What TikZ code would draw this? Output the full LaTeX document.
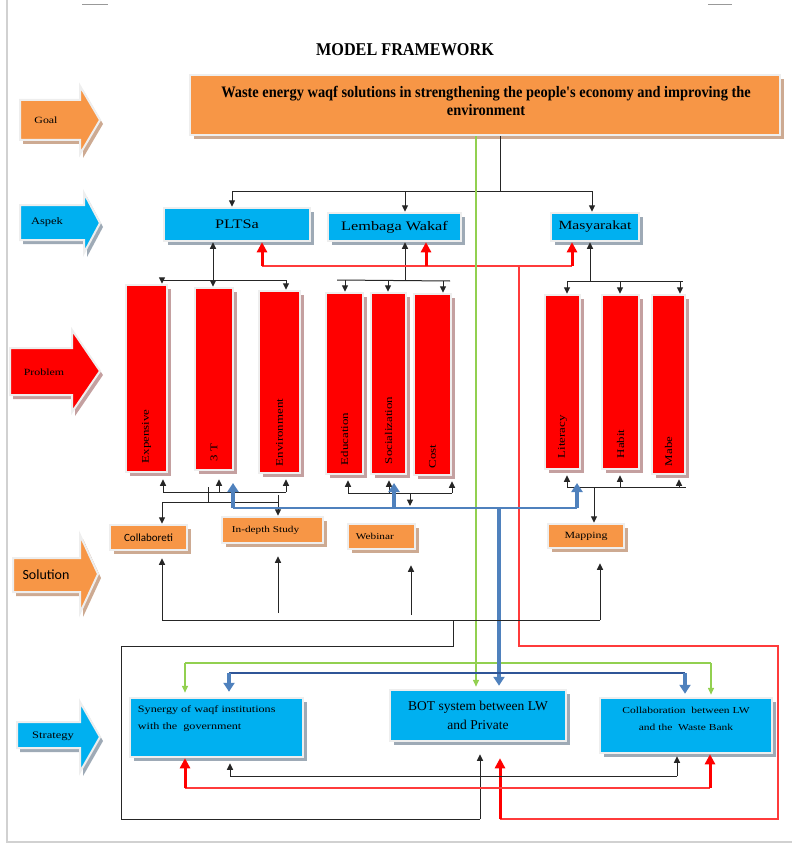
\documentclass[tikz,border=0pt]{standalone}
\usepackage{fontspec}
\setmainfont{Liberation Serif}
\newfontfamily\wserif[FakeStretch=1.25]{Liberation Serif}
\newfontfamily\nserif[FakeStretch=0.9]{Liberation Serif}
\newfontfamily\calib{Carlito}
\usetikzlibrary{arrows.meta,shadows,calc}
\definecolor{orng}{HTML}{F79646}
\definecolor{cyanb}{HTML}{00B0F0}
\definecolor{steel}{HTML}{4F81BD}
\definecolor{navy}{HTML}{2F5597}
\definecolor{grn}{HTML}{92D050}
\definecolor{rline}{HTML}{FF3B3B}
\definecolor{edge}{HTML}{EEEEEE}
\definecolor{shbrown}{HTML}{CDAA92}
\definecolor{shgray}{HTML}{9EAAB6}
\definecolor{shred}{HTML}{C4A0A0}
\newcommand{\blockarr}[9]{%
  \fill[#9,shift={(3,4)}] (#1,#4)--(#2,#4)--(#2,#6)--(#3,{(#6+#7)/2})--(#2,#7)--(#2,#5)--(#1,#5)--cycle;
  \filldraw[fill=#8,draw=edge,line width=2pt] (#1,#4)--(#2,#4)--(#2,#6)--(#3,{(#6+#7)/2})--(#2,#7)--(#2,#5)--(#1,#5)--cycle;}
\begin{document}
\begin{tikzpicture}[x=1pt,y=-1pt,
  box/.style={draw=edge,line width=2.5pt,inner sep=0pt},
  shb/.style={drop shadow={shadow xshift=3.5pt,shadow yshift=-4pt,fill=#1,opacity=1}},
  obox/.style={box,fill=orng,shb=shbrown},
  bbox/.style={box,fill=cyanb,shb=shgray},
  rbox/.style={box,fill=red,shb=shred},
  ptext/.style={rotate=90,anchor=west,inner sep=0pt,font=\wserif\fontsize{10.3}{12}\selectfont},
  ln/.style={line width=1pt,draw=black!85},
  arr/.style={ln,-{Triangle[length=6.5pt,width=6pt]}},
  darr/.style={ln,{Triangle[length=6.5pt,width=6pt]}-{Triangle[length=6.5pt,width=6pt]}},
  rl/.style={line width=1.2pt,draw=rline},
  rthick/.style={line width=3pt,draw=red,-{Triangle[length=10pt,width=10pt]}},
  grl/.style={line width=1.5pt,draw=grn},
  grarr/.style={grl,-{Triangle[length=7pt,width=6pt]}},
  bln/.style={line width=2pt,draw=steel},
  bthick/.style={line width=3.5pt,draw=steel,-{Triangle[length=9pt,width=11pt]}},
  nvl/.style={line width=1.5pt,draw=navy}]
\useasboundingbox (0,0) rectangle (792,845);
% page frame
\draw[black!18,line width=2pt] (7,0) -- (7,842) -- (792,842);
\draw[black!40,line width=0.8pt] (82,4) -- (108,4);
\draw[black!40,line width=0.8pt] (708,4) -- (732,4);

% title
\node[font=\nserif\bfseries\fontsize{18}{21}\selectfont] (title) at (405,50) {MODEL FRAMEWORK};

% left block arrows
\blockarr{20}{80}{100}{100}{140}{86}{154}{orng}{shbrown}
\node[font=\wserif\fontsize{9.5}{11}\selectfont] (goallbl) at (46,120) {Goal};
\blockarr{20}{84}{100}{205}{240}{193}{253}{cyanb}{shgray}
\node[font=\wserif\fontsize{10}{11}\selectfont] (aspeklbl) at (47,222) {Aspek};
\blockarr{10}{72}{100}{348}{395}{330}{412}{red}{shred}
\node[font=\wserif\fontsize{9.5}{11}\selectfont] (problbl) at (44,372) {Problem};
\blockarr{13}{80}{98}{558}{592}{535}{613}{orng}{shbrown}
\node[font=\calib\fontsize{14}{16}\selectfont] (sollbl) at (46,575) {Solution};
\blockarr{17}{80}{100}{722}{748}{702}{772}{cyanb}{shgray}
\node[font=\wserif\fontsize{10}{11}\selectfont] (strlbl) at (53,736) {Strategy};

% goal
\node[obox,minimum width=590pt,minimum height=60pt] (goal) at (485,105) {};
\node[font=\nserif\bfseries\fontsize{16}{18.5}\selectfont,align=center] (goaltxt) at (486,101)
  {Waste energy waqf solutions in strengthening the people's economy and improving the\\environment};

% aspects
\node[bbox,minimum width=146pt,minimum height=33pt,font=\wserif\fontsize{13}{15}\selectfont] (plts) at (237,224.5) {PLTSa};
\node[bbox,minimum width=133pt,minimum height=28pt,font=\wserif\fontsize{13}{15}\selectfont] (lemb) at (394.5,227) {Lembaga Wakaf};
\node[bbox,minimum width=88pt,minimum height=28pt,font=\wserif\fontsize{12.5}{15}\selectfont] (masy) at (595,227) {Masyarakat};

% problems
\node[rbox,minimum width=41pt,minimum height=187pt] (exp) at (146.5,378.5) {};
\node[rbox,minimum width=38pt,minimum height=182pt] (t3) at (214,379) {};
\node[rbox,minimum width=41pt,minimum height=182pt] (env) at (279.5,382) {};
\node[rbox,minimum width=37pt,minimum height=181pt] (edu) at (344.5,383.5) {};
\node[rbox,minimum width=35pt,minimum height=181pt] (soc) at (388.5,383.5) {};
\node[rbox,minimum width=37pt,minimum height=181pt] (cost) at (432.5,384.5) {};
\node[rbox,minimum width=35pt,minimum height=174pt] (lit) at (562.5,382) {};
\node[rbox,minimum width=37pt,minimum height=174pt] (hab) at (620.5,382) {};
\node[rbox,minimum width=33pt,minimum height=179pt] (mab) at (668.5,384.5) {};
\node[ptext] (expt) at ($(exp.south)+(0,-10)$) {Expensive};
\node[ptext] (t3t) at ($(t3.south)+(0,-10)$) {3 T};
\node[ptext] (envt) at ($(env.south)+(0,-8)$) {Environment};
\node[ptext] (edut) at ($(edu.south)+(0,-10)$) {Education};
\node[ptext] (soct) at ($(soc.south)+(0,-11)$) {Socialization};
\node[ptext] (costt) at ($(cost.south)+(0,-8)$) {Cost};
\node[ptext] (litt) at ($(lit.south)+(0,-12)$) {Literacy};
\node[ptext] (habt) at ($(hab.south)+(0,-12)$) {Habit};
\node[ptext] (mabt) at ($(mab.south)+(0,-9)$) {Mabe};

% solutions
\node[obox,minimum width=77pt,minimum height=25pt,font=\calib\fontsize{11}{13}\selectfont] (colb) at (148.5,537.5) {Collaboreti};
\node[obox,minimum width=101pt,minimum height=26pt] (indepth) at (272.5,530) {};
\node[anchor=west,inner sep=0pt,font=\wserif\fontsize{9}{11}\selectfont] (indt) at ($(indepth.west)+(11,0)$) {In-depth Study};
\node[obox,minimum width=67pt,minimum height=25pt] (web) at (381.5,536.5) {};
\node[anchor=west,inner sep=0pt,font=\wserif\fontsize{9}{11}\selectfont] (webt) at ($(web.west)+(9,0)$) {Webinar};
\node[obox,minimum width=76pt,minimum height=24pt,font=\wserif\fontsize{9.5}{11}\selectfont] (map) at (586,536) {Mapping};

% strategies
\node[bbox,minimum width=173pt,minimum height=59pt] (syn) at (216.5,727.5) {};
\node[anchor=north west,align=left,inner sep=0pt,font=\wserif\fontsize{9.7}{17}\selectfont] (synt) at ($(syn.north west)+(9,9)$)
  {Synergy of waqf institutions\\with the\ \ government};
\node[bbox,minimum width=176pt,minimum height=51pt,font=\fontsize{13.5}{19}\selectfont,align=center] (bot) at (478,715.5) {BOT system between LW\\and Private};
\node[bbox,minimum width=172pt,minimum height=55pt] (colw) at (686,725.5) {};
\node[align=center,inner sep=0pt,font=\wserif\fontsize{9.2}{16.5}\selectfont] (colwt) at (686,719)
  {Collaboration\ \ between LW\\and the\ \ Waste Bank};

% ---------- connectors ----------
% goal -> aspects
\coordinate (gj) at (500,191);
\coordinate (gja) at (232,191);
\coordinate (gjb) at (405,191);
\coordinate (gjc) at (592,191);
\draw[ln] (gj |- goal.south) -- (gj);
\draw[ln] (gja) -- (gjc);
\draw[arr] (gja) -- (gja |- plts.north);
\draw[arr] (gjb) -- (gjb |- lemb.north);
\draw[arr] (gjc) -- (gjc |- masy.north);

% PLTSa -> problems
\coordinate (pa) at (213,280);
\coordinate (pl) at (162,280);
\coordinate (pr) at (286,280);
\draw[darr] (pa |- plts.south) -- (pa |- t3.north);
\draw[ln] (pl) -- (pr);
\draw[arr] (pl) -- (pl |- exp.north);
\draw[arr] (pr) -- (pr |- env.north);

% Lembaga -> problems
\coordinate (la) at (405,280);
\coordinate (ll) at (337,280);
\coordinate (lr) at (450,281);
\coordinate (l1) at (345,280);
\coordinate (l2) at (388,280);
\coordinate (l3) at (443,281);
\draw[arr] (la) -- (la |- lemb.south);
\draw[ln] (ll) -- (lr);
\draw[arr] (l1) -- (l1 |- edu.north);
\draw[arr] (l2) -- (l2 |- soc.north);
\draw[arr] (l3) -- (l3 |- cost.north);

% Masyarakat -> problems
\coordinate (ma) at (590,281);
\coordinate (ml) at (567,281);
\coordinate (m2) at (620,281);
\coordinate (m3) at (680,281);
\coordinate (mr) at (683,281);
\draw[arr] (ma) -- (ma |- masy.south);
\draw[ln] (ml) -- (mr);
\draw[arr] (ml) -- (ml |- lit.north);
\draw[arr] (m2) -- (m2 |- hab.north);
\draw[arr] (m3) -- (m3 |- mab.north);

% red feedback to aspects and loop to BOT
\coordinate (r1) at (262,266);
\coordinate (r2) at (426,266);
\coordinate (r3) at (572,266);
\coordinate (rv) at (519,266);
\coordinate (rk) at (778,646);
\coordinate (rb) at (500,819);
\draw[rl] (r1) -- (r3);
\draw[rl] (rv) |- (rk) |- (rb);
\draw[rthick] (r1) -- (r1 |- plts.south);
\draw[rthick] (r2) -- (r2 |- lemb.south);
\draw[rthick] (r3) -- (r3 |- masy.south);
\draw[rthick,shorten >=16pt] (rb) -- (rb |- bot.south);

% green line goal -> strategies
\coordinate (gv) at (476,663);
\coordinate (gl) at (185,663);
\coordinate (gr) at (711,663);
\draw[grarr,shorten >=2pt] (gv |- goal.south) -- (gv |- bot.north);
\draw[grl] (gl) -- (gr);
\draw[grarr,shorten >=4pt] (gl) -- (gl |- syn.north);
\draw[grarr,shorten >=2pt] (gr) -- (gr |- colw.north);

% problem bottoms (PLTSa group)
\coordinate (p1) at (163,492);
\coordinate (p2) at (219,492);
\coordinate (p3) at (286,492);
\coordinate (pj) at (208,487);
\coordinate (pk) at (208,502);
\coordinate (q1) at (162,502);
\coordinate (q2) at (278,502);
\coordinate (q3) at (278,495);
\draw[ln] (p1) -- (p3);
\draw[arr,shorten >=6pt] (p1) -- (p1 |- exp.south);
\draw[arr,shorten >=8pt] (p2) -- (p2 |- t3.south);
\draw[arr,shorten >=5pt] (p3) -- (p3 |- env.south);
\draw[ln] (pj) -- (pk);
\draw[ln] (q1) -- (q2);
\draw[arr] (q1) -- (q1 |- colb.north);
\draw[arr] (q3) -- (q3 |- indepth.north);

% problem bottoms (Lembaga group)
\coordinate (e1) at (348,493);
\coordinate (e2) at (389,493);
\coordinate (e3) at (452,493);
\coordinate (e4) at (410,493);
\coordinate (e5) at (410,506);
\draw[ln] (e1) -- (e3);
\draw[arr,shorten >=5pt] (e1) -- (e1 |- edu.south);
\draw[arr,shorten >=5pt] (e2) -- (e2 |- soc.south);
\draw[arr,shorten >=5pt] (e3) -- (e3 |- cost.south);
\draw[arr] (e4) -- (e5);

% problem bottoms (Masyarakat group)
\coordinate (y1) at (567,487);
\coordinate (y2) at (620,487);
\coordinate (y3) at (679,487);
\coordinate (y4) at (686,487);
\coordinate (y5) at (594,487);
\draw[ln] (y1) -- (y4);
\draw[arr,shorten >=5pt] (y1) -- (y1 |- lit.south);
\draw[arr,shorten >=5pt] (y2) -- (y2 |- hab.south);
\draw[arr,shorten >=4pt] (y3) -- (y3 |- mab.south);
\draw[arr] (y5) -- (y5 |- map.north);

% blue: problems -> BOT
\coordinate (bl) at (233,508);
\coordinate (bm) at (394,508);
\coordinate (br) at (577,508);
\coordinate (bv) at (499,508);
\coordinate (blt) at (233,483);
\coordinate (bmt) at (394,483);
\coordinate (brt) at (577,483);
\draw[bln] (bl) -- (br);
\draw[bthick] (bl) -- (blt);
\draw[bthick] (bm) -- (bmt);
\draw[bthick] (br) -- (brt);
\draw[bthick,shorten >=3pt] (bv) -- (bv |- bot.north);

% solutions -> strategy (black)
\coordinate (s0) at (162,620);
\coordinate (s1) at (278,613);
\coordinate (s2) at (411,615);
\coordinate (s3) at (600,620);
\coordinate (s4) at (453,620);
\coordinate (kf1) at (121,646);
\coordinate (kf2) at (480,819);
\draw[ln] (s0) -- (s3);
\draw[arr,shorten >=7pt] (s0) -- (s0 |- colb.south);
\draw[arr,shorten >=12pt] (s1) -- (s1 |- indepth.south);
\draw[arr,shorten >=15pt] (s2) -- (s2 |- web.south);
\draw[arr,shorten >=14pt] (s3) -- (s3 |- map.south);
\draw[ln] (s4) |- (kf1) |- (kf2);
\draw[arr,shorten >=12pt] (kf2) -- (kf2 |- bot.south);

% blue (strategy level)
\coordinate (nl) at (229,673);
\coordinate (nr) at (685,673);
\draw[nvl] (nl) -- (nr);
\draw[bthick,shorten >=5pt] (nl) -- (nl |- syn.north);
\draw[bthick,shorten >=3pt] (nr) -- (nr |- colw.north);

% black (strategy level)
\coordinate (kbl) at (230,776);
\coordinate (kbr) at (677,776);
\draw[ln] (kbl) -- (kbr);
\draw[arr,shorten >=5pt] (kbl) -- (kbl |- syn.south);
\draw[arr,shorten >=2pt] (kbr) -- (kbr |- colw.south);

% red (strategy level)
\coordinate (rbl) at (185,788);
\coordinate (rbr) at (710,788);
\draw[rl] (rbl) -- (rbr);
\draw[rthick] (rbl) -- (rbl |- syn.south);
\draw[rthick] (rbr) -- (rbr |- colw.south);
\end{tikzpicture}
\end{document}
